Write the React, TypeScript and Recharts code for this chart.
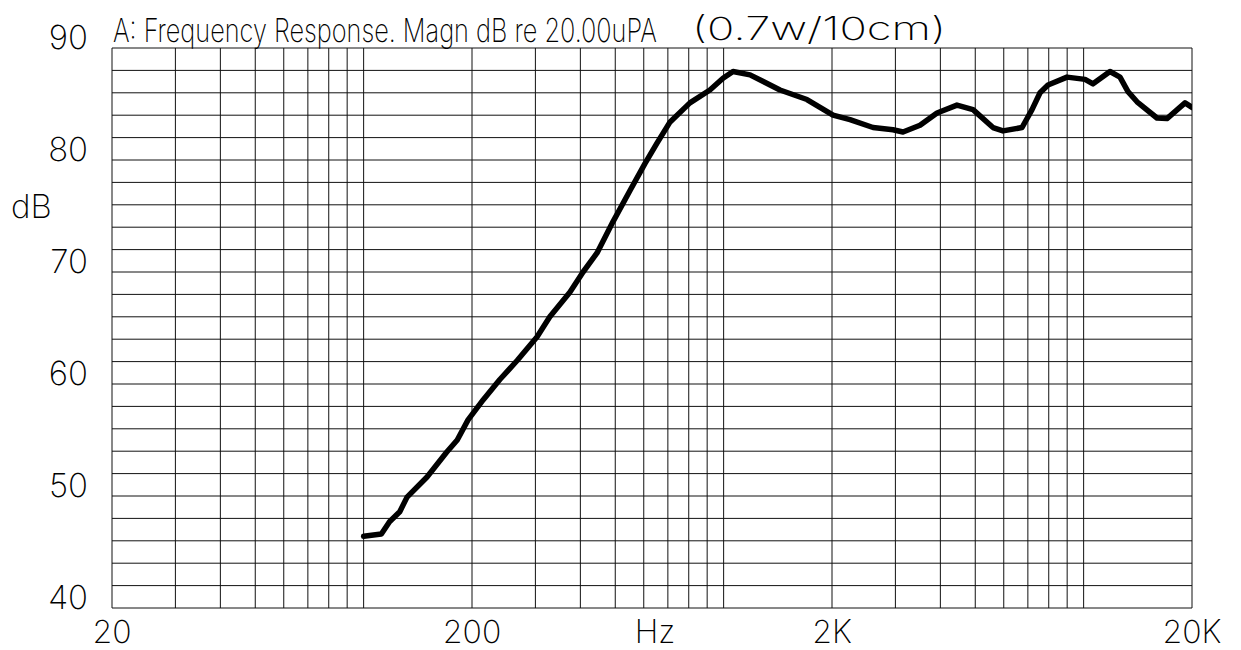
import React from "react";
import { LineChart, Line, XAxis, YAxis, ReferenceLine } from "recharts";

// Frequency (Hz) and SPL (dB)
const freqHz = [
  100, 112, 118, 126, 132, 150, 170, 182, 195, 215, 239, 267, 303, 329, 374, 407, 445, 493,
  550, 605, 653, 710, 806, 916, 996, 1062, 1184, 1434, 1704, 2013, 2244, 2600, 2954, 3150,
  3512, 3915, 4448, 4929, 5600, 5970, 6744, 7188, 7566, 7962, 8992, 10090, 10618, 11836,
  12619, 13281, 14070, 15988, 17043, 19127, 20000,
];
const splDb = [
  46.4, 46.6, 47.7, 48.6, 49.9, 51.7, 53.9, 55.0, 56.8, 58.6, 60.4, 62.1, 64.2, 66.0, 68.2,
  70.0, 71.7, 74.5, 77.3, 79.7, 81.5, 83.4, 85.1, 86.25, 87.3, 87.9, 87.6, 86.25, 85.4, 84.0,
  83.6, 82.9, 82.7, 82.5, 83.1, 84.2, 84.9, 84.5, 82.9, 82.6, 82.9, 84.5, 86.0, 86.7, 87.4,
  87.2, 86.8, 87.9, 87.4, 86.1, 85.2, 83.75, 83.7, 85.1, 84.7,
];

const xTicks = [20, 200, 2000, 20000];
const xTickLabels = ["20", "200", "2K", "20K"];
const yTicks = [40, 50, 60, 70, 80, 90];
const gridFreqs = [
  20, 30, 40, 50, 60, 70, 80, 90, 100, 200, 300, 400, 500, 600, 700, 800, 900, 1000, 2000,
  3000, 4000, 5000, 6000, 7000, 8000, 9000, 10000, 20000,
];
const gridDb = [
  40, 42, 44, 46, 48, 50, 52, 54, 56, 58, 60, 62, 64, 66, 68, 70, 72, 74, 76, 78, 80, 82, 84,
  86, 88, 90,
];

const data = freqHz.map((f, i) => ({ f, db: splDb[i] }));

const FONT = "Inter, 'DejaVu Sans', sans-serif";
const WEIGHT = 200;

const XTick = (props: any) => {
  const { x, y, payload } = props;
  const idx = xTicks.indexOf(payload.value);
  return (
    <text x={x} y={y + 35} textAnchor="middle" fontSize={32} fontFamily={FONT} fontWeight={WEIGHT} fill="#000">
      {idx >= 0 ? xTickLabels[idx] : payload.value}
    </text>
  );
};

const YTick = (props: any) => {
  const { x, y, payload } = props;
  return (
    <text x={x - 24} y={y + 1} textAnchor="end" fontSize={33} fontFamily={FONT} fontWeight={WEIGHT} fill="#000">
      {payload.value}
    </text>
  );
};

export default function App() {
  return (
    <div style={{ position: "absolute", left: 0, top: 0, width: 1241, height: 650, background: "#fff" }}>
      <LineChart width={1241} height={650} data={data} margin={{ top: 48, right: 49, bottom: 0, left: 52 }}>
        <XAxis
          dataKey="f"
          type="number"
          scale="log"
          domain={[20, 20000]}
          ticks={xTicks}
          allowDataOverflow
          axisLine={false}
          tickLine={false}
          tickSize={0}
          tickMargin={0}
          height={42}
          tick={XTick}
          interval={0}
        />
        <YAxis
          type="number"
          domain={[40, 90]}
          ticks={yTicks}
          allowDataOverflow
          axisLine={false}
          tickLine={false}
          tickSize={0}
          tickMargin={0}
          width={60}
          tick={YTick}
          interval={0}
        />
        {gridDb.map((v) => (
          <ReferenceLine key={"h" + v} y={v} stroke="#111" strokeWidth={1} ifOverflow="visible" />
        ))}
        {gridFreqs.map((v) => (
          <ReferenceLine key={"v" + v} x={v} stroke="#111" strokeWidth={1} ifOverflow="visible" />
        ))}
        <Line
          dataKey="db"
          type="linear"
          stroke="#000"
          strokeWidth={5.5}
          strokeLinejoin="round"
          strokeLinecap="round"
          dot={false}
          activeDot={false}
          isAnimationActive={false}
        />
      </LineChart>
      <svg width={1241} height={650} style={{ position: "absolute", left: 0, top: 0, pointerEvents: "none" }}>
        <text
          transform="translate(113,42) scale(0.62,1)"
          x={0}
          y={0}
          fontSize={33}
          fontFamily={FONT}
          fontWeight={WEIGHT}
          fill="#000"
          textLength={877}
          lengthAdjust="spacingAndGlyphs"
        >
          A: Frequency Response. Magn dB re 20.00uPA
        </text>
        <text x={692} y={40} fontSize={32} fontFamily={FONT} fontWeight={WEIGHT} fill="#000" textLength={254} lengthAdjust="spacingAndGlyphs">
          (0.7w/10cm)
        </text>
        <text x={11} y={218} fontSize={33} fontFamily={FONT} fontWeight={WEIGHT} fill="#000">
          dB
        </text>
        <text x={655} y={643} textAnchor="middle" fontSize={32} fontFamily={FONT} fontWeight={WEIGHT} fill="#000">
          Hz
        </text>
      </svg>
    </div>
  );
}
